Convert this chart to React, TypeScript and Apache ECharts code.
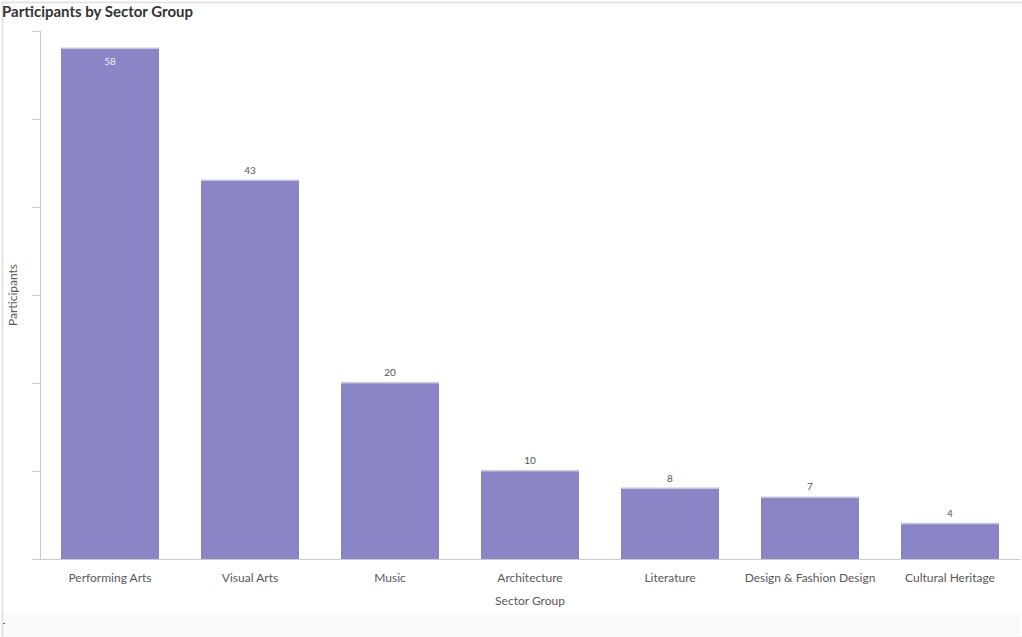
import React, { useEffect, useRef } from "react";
import * as echarts from "echarts";

const categories = [
  "Performing Arts",
  "Visual Arts",
  "Music",
  "Architecture",
  "Literature",
  "Design & Fashion Design",
  "Cultural Heritage",
];
const participants = [58, 43, 20, 10, 8, 7, 4];
const yTicks = { min: 0, max: 60, interval: 10 };

const FONT = "Lato, 'Noto Sans', sans-serif";

export default function App() {
  const ref = useRef<HTMLDivElement>(null);
  useEffect(() => {
    document.body.style.margin = "0";
    const chart = echarts.init(ref.current!, null, { renderer: "svg" });
    chart.setOption({
      animation: false,
      backgroundColor: "#ffffff",
      textStyle: { fontFamily: FONT },
      title: {
        text: "Participants by Sector Group",
        left: 2,
        top: 3,
        padding: 0,
        textStyle: { fontSize: 15, fontWeight: "bold", color: "#333333", fontFamily: FONT },
      },
      grid: {
        left: 40,
        right: 2,
        top: 31,
        bottom: 78,
        containLabel: false,
        outerBoundsMode: "none",
      },
      xAxis: {
        type: "category",
        data: categories,
        name: "Sector Group",
        nameLocation: "middle",
        nameGap: 35,
        nameTextStyle: { fontSize: 12, color: "#595959", fontFamily: FONT },
        axisLine: { show: true, lineStyle: { color: "#cccccc", width: 1 } },
        axisTick: { show: false },
        axisLabel: { fontSize: 12, color: "#595959", margin: 12, fontFamily: FONT, interval: 0 },
      },
      yAxis: {
        type: "value",
        min: yTicks.min,
        max: yTicks.max,
        interval: yTicks.interval,
        name: "Participants",
        nameLocation: "middle",
        nameGap: 22,
        nameTextStyle: { fontSize: 12, color: "#595959", fontFamily: FONT },
        axisLine: { show: true, lineStyle: { color: "#cccccc", width: 1 } },
        axisTick: { show: true, length: 8, inside: false, lineStyle: { color: "#cccccc" } },
        axisLabel: { show: false },
        splitLine: { show: false },
      },
      series: [
        {
          type: "bar",
          data: participants.map((v, i) => ({
            value: v,
            label:
              i === 0
                ? { position: "insideTop", distance: 7, color: "#eeeeee" }
                : { position: "top", distance: 6, color: "#555555" },
          })),
          barWidth: "70%",
          itemStyle: { color: "#8a86c6" },
          label: { show: true, fontSize: 10, fontFamily: FONT },
        },
        {
          type: "custom",
          silent: true,
          data: participants.map((v, i) => [i, v]),
          renderItem: (params: any, api: any) => {
            const pt = api.coord([api.value(0), api.value(1)]);
            const w = api.size([1, 0])[0] * 0.7;
            return {
              type: "rect",
              shape: { x: pt[0] - w / 2, y: pt[1] - 1, width: w, height: 1.5 },
              style: { fill: "#c8c7e2" },
            };
          },
          z: 5,
        },
      ],
      graphic: [
        {
          type: "rect",
          left: 0,
          top: 613,
          shape: { width: 1020, height: 22 },
          style: { fill: "#fafafa" },
          silent: true,
        },
        {
          type: "text",
          left: 2,
          top: 617,
          style: { text: "-", fontSize: 10, fill: "#333333", fontFamily: FONT },
        },
        {
          type: "rect",
          left: 0,
          top: 0,
          shape: { width: 1020.5, height: 635 },
          style: { fill: "none", stroke: "#dddddd", lineWidth: 1.5 },
          silent: true,
        },
      ],
    });
    return () => chart.dispose();
  }, []);
  return (
    <div
      ref={ref}
      style={{ position: "absolute", left: 0, top: 0, width: 1022, height: 637 }}
    />
  );
}
